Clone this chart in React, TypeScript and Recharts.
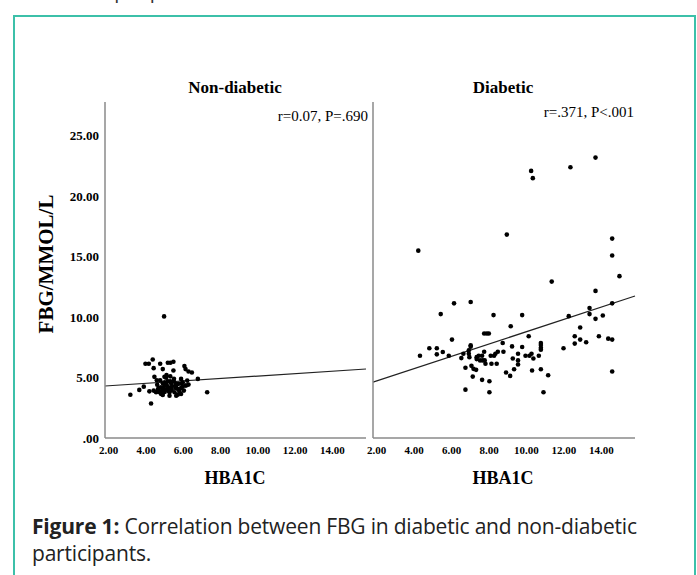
import React from 'react';
import { ScatterChart, Scatter, XAxis, YAxis, ReferenceLine } from 'recharts';

// HbA1c (x) vs FBG mmol/L (y)
const nonDiabeticPoints: [number, number][] = [
  [4.97, 10.06], [4.36, 6.5], [3.97, 6.14], [4.15, 6.14], [4.41, 5.78], [4.76, 6.14],
  [4.9, 5.7], [5.17, 6.23], [5.31, 6.23], [5.47, 6.31], [5.47, 5.59], [6.06, 5.95],
  [6.12, 5.7], [6.28, 5.5], [6.46, 5.42], [4.45, 5.06], [4.58, 4.78], [4.76, 4.78],
  [4.99, 5.06], [5.08, 4.98], [5.17, 4.7], [4.9, 4.53], [4.99, 4.34], [5.17, 4.25],
  [5.35, 4.53], [5.49, 4.7], [5.62, 4.34], [5.88, 4.89], [5.97, 4.61], [6.21, 4.75],
  [6.15, 4.34], [6.78, 4.89], [3.88, 4.25], [3.64, 3.98], [3.16, 3.58], [4.18, 3.86],
  [4.41, 3.92], [4.63, 3.98], [4.72, 3.78], [4.81, 3.64], [4.9, 3.92], [5.02, 3.98],
  [5.26, 3.78], [5.38, 3.98], [5.53, 3.78], [5.71, 4.06], [5.79, 3.86], [5.88, 3.64],
  [6.03, 3.92], [6.1, 4.34], [6.28, 4.42], [5.71, 3.59], [4.9, 3.56], [4.54, 3.78],
  [4.27, 2.86], [7.28, 3.78], [5.17, 4.14], [4.95, 4.14], [4.67, 4.14], [5.35, 4.14],
  [5.58, 4.14], [5.74, 4.48], [5.96, 4.25], [5.26, 3.5], [5.62, 3.5], [5.88, 4.14],
  [5.0, 4.6], [5.1, 4.4], [5.3, 4.7], [5.4, 4.3], [4.8, 4.2], [5.2, 3.9], [5.6, 4.5],
  [5.0, 3.8], [4.6, 4.4], [5.5, 4.9], [5.1, 5.2], [5.9, 4.5], [4.7, 3.9], [5.3, 5.1],
];

const diabeticPoints: [number, number][] = [
  [4.22, 15.5], [8.95, 16.83], [10.25, 22.1], [10.34, 21.5], [12.35, 22.4], [13.69, 23.2],
  [14.58, 16.5], [14.58, 15.1],
  [4.31, 6.81], [4.81, 7.42], [5.21, 7.42], [5.21, 6.92], [5.53, 7.11], [5.85, 6.81],
  [5.42, 10.25], [6.13, 11.14], [6.02, 8.14], [6.52, 6.61], [6.63, 6.97], [6.74, 5.81],
  [6.74, 4.0], [6.92, 7.25], [6.92, 6.97], [6.95, 6.69], [7.02, 11.25], [7.02, 7.67],
  [7.02, 7.56], [7.06, 5.97], [7.13, 5.08], [7.17, 5.72], [7.31, 5.64], [7.34, 6.69],
  [7.34, 6.53], [7.45, 6.81], [7.52, 6.42], [7.63, 6.81], [7.66, 6.42], [7.63, 4.81],
  [7.74, 7.14], [7.77, 6.42], [7.81, 6.14], [7.74, 8.64], [7.88, 8.64], [7.99, 8.64],
  [8.02, 4.69], [8.02, 3.78], [8.09, 6.81], [8.13, 6.14], [8.24, 10.17], [8.27, 6.81],
  [8.34, 6.97], [8.41, 6.14], [8.47, 7.14], [8.73, 7.86], [8.77, 7.14], [8.91, 5.42],
  [9.13, 5.14], [9.16, 9.25], [9.23, 7.58], [9.27, 6.58], [9.34, 5.69], [9.55, 6.97],
  [9.55, 6.42], [9.55, 6.08], [9.77, 10.17], [9.77, 7.53], [9.95, 6.81], [10.12, 8.42],
  [10.16, 6.81], [10.27, 6.97], [10.3, 5.58], [10.37, 6.58], [10.66, 6.81], [10.77, 7.86],
  [10.77, 7.69], [10.77, 7.47], [10.77, 7.31], [10.77, 5.69], [10.91, 3.78], [11.16, 5.19],
  [11.35, 12.94], [11.98, 7.42], [12.26, 10.08], [12.58, 8.42], [12.58, 7.81], [12.87, 9.14],
  [12.87, 8.14], [13.19, 7.92], [13.37, 10.75], [13.37, 10.25], [13.69, 12.17], [13.69, 9.86],
  [13.87, 8.42], [14.08, 10.14], [14.37, 8.22], [14.58, 8.14], [14.58, 11.14], [14.58, 5.5],
  [14.97, 13.39],
];

// linear fit: [intercept, slope]
const nonDiabeticFit = [4.12, 0.1007];
const diabeticFit = [3.71, 0.5086];

const xTicks = [2, 4, 6, 8, 10, 12, 14];
const yTicks = [0, 5, 10, 15, 20, 25];
const xDomain = [1.8, 15.8];
const yDomain = [0, 27.8];

const serif = '"Liberation Serif", "Times New Roman", serif';
const axisColor = '#8a8a8a';

const Dot = (props: any) => <circle cx={props.cx} cy={props.cy} r={2.3} fill="#000" />;

interface PanelProps {
  points: [number, number][];
  fit: number[];
  left: number;
  width: number;
  yAxisWidth: number;
  showYTicks: boolean;
}

const Panel: React.FC<PanelProps> = ({ points, fit, left, width, yAxisWidth, showYTicks }) => {
  const data = points.map(([x, y]) => ({ x, y }));
  const [a, b] = fit;
  return (
    <div style={{ position: 'absolute', left, top: 0 }}>
      <ScatterChart width={width} height={500} margin={{ top: 102, right: 4, bottom: 32, left: 0 }}>
        <XAxis
          type="number"
          dataKey="x"
          domain={xDomain}
          ticks={xTicks}
          interval={0}
          allowDataOverflow
          height={30}
          tickLine={false}
          tickSize={0}
          tickMargin={8}
          axisLine={{ stroke: axisColor, strokeWidth: 1.5 }}
          tickFormatter={(v: number) => v.toFixed(2)}
          tick={{ fill: '#000', fontSize: 11, fontWeight: 'bold', fontFamily: serif }}
        />
        <YAxis
          type="number"
          dataKey="y"
          domain={yDomain}
          ticks={yTicks}
          interval={0}
          allowDataOverflow
          width={yAxisWidth}
          tickLine={false}
          tickSize={0}
          tickMargin={6}
          tick={showYTicks ? { fill: '#000', fontSize: 13, fontWeight: 'bold', fontFamily: serif } : false}
          axisLine={{ stroke: axisColor, strokeWidth: 1.5 }}
          tickFormatter={(v: number) => (v === 0 ? '.00' : v.toFixed(2))}
        />
        <ReferenceLine
          segment={[
            { x: xDomain[0], y: a + b * xDomain[0] },
            { x: xDomain[1], y: a + b * xDomain[1] },
          ]}
          stroke="#222"
          strokeWidth={1.2}
          ifOverflow="visible"
        />
        <Scatter data={data} shape={Dot} isAnimationActive={false} />
      </ScatterChart>
    </div>
  );
};

const abs = (style: React.CSSProperties): React.CSSProperties => ({ position: 'absolute', ...style });

export default function App() {
  return (
    <div style={abs({ left: 0, top: 0, width: 697, height: 575, overflow: 'hidden', background: '#fff' })}>
      <div
        style={abs({
          left: 27, top: -19, fontFamily: '"Open Sans", sans-serif', fontSize: 20, lineHeight: '20px',
          color: '#333', whiteSpace: 'nowrap',
        })}
      >
        for more people with diabetes
      </div>
      <div
        style={abs({
          left: 13, top: 15, width: 683, height: 600, border: '2px solid #3cc0a9', boxSizing: 'border-box',
        })}
      />

      <Panel points={nonDiabeticPoints} fit={nonDiabeticFit} left={0} width={370} yAxisWidth={105} showYTicks />
      <Panel points={diabeticPoints} fit={diabeticFit} left={350} width={289} yAxisWidth={23} showYTicks={false} />

      <div style={abs({ left: 135, width: 200, top: 78, textAlign: 'center', fontFamily: serif, fontWeight: 'bold', fontSize: 17 })}>
        Non-diabetic
      </div>
      <div style={abs({ left: 403, width: 200, top: 78, textAlign: 'center', fontFamily: serif, fontWeight: 'bold', fontSize: 17 })}>
        Diabetic
      </div>
      <div style={abs({ left: 200, width: 168, top: 108, textAlign: 'right', fontFamily: serif, fontSize: 15, whiteSpace: 'nowrap' })}>
        r=0.07, P=.690
      </div>
      <div style={abs({ left: 466, width: 168, top: 104, textAlign: 'right', fontFamily: serif, fontSize: 15, whiteSpace: 'nowrap' })}>
        r=.371, P&lt;.001
      </div>
      <div
        style={abs({
          left: 46, top: 264, transform: 'translate(-50%, -50%) rotate(-90deg)', fontFamily: serif,
          fontWeight: 'bold', fontSize: 21, whiteSpace: 'nowrap',
        })}
      >
        FBG/MMOL/L
      </div>
      <div style={abs({ left: 135, width: 200, top: 468, textAlign: 'center', fontFamily: serif, fontWeight: 'bold', fontSize: 18 })}>
        HBA1C
      </div>
      <div style={abs({ left: 403, width: 200, top: 468, textAlign: 'center', fontFamily: serif, fontWeight: 'bold', fontSize: 18 })}>
        HBA1C
      </div>

      <div
        style={abs({
          left: 32, top: 513, width: 640, fontFamily: '"Open Sans", sans-serif', fontSize: 21,
          lineHeight: '27px', color: '#222', letterSpacing: '-0.2px',
        })}
      >
        <b>Figure 1:</b> Correlation between FBG in diabetic and non-diabetic participants.
      </div>
    </div>
  );
}
